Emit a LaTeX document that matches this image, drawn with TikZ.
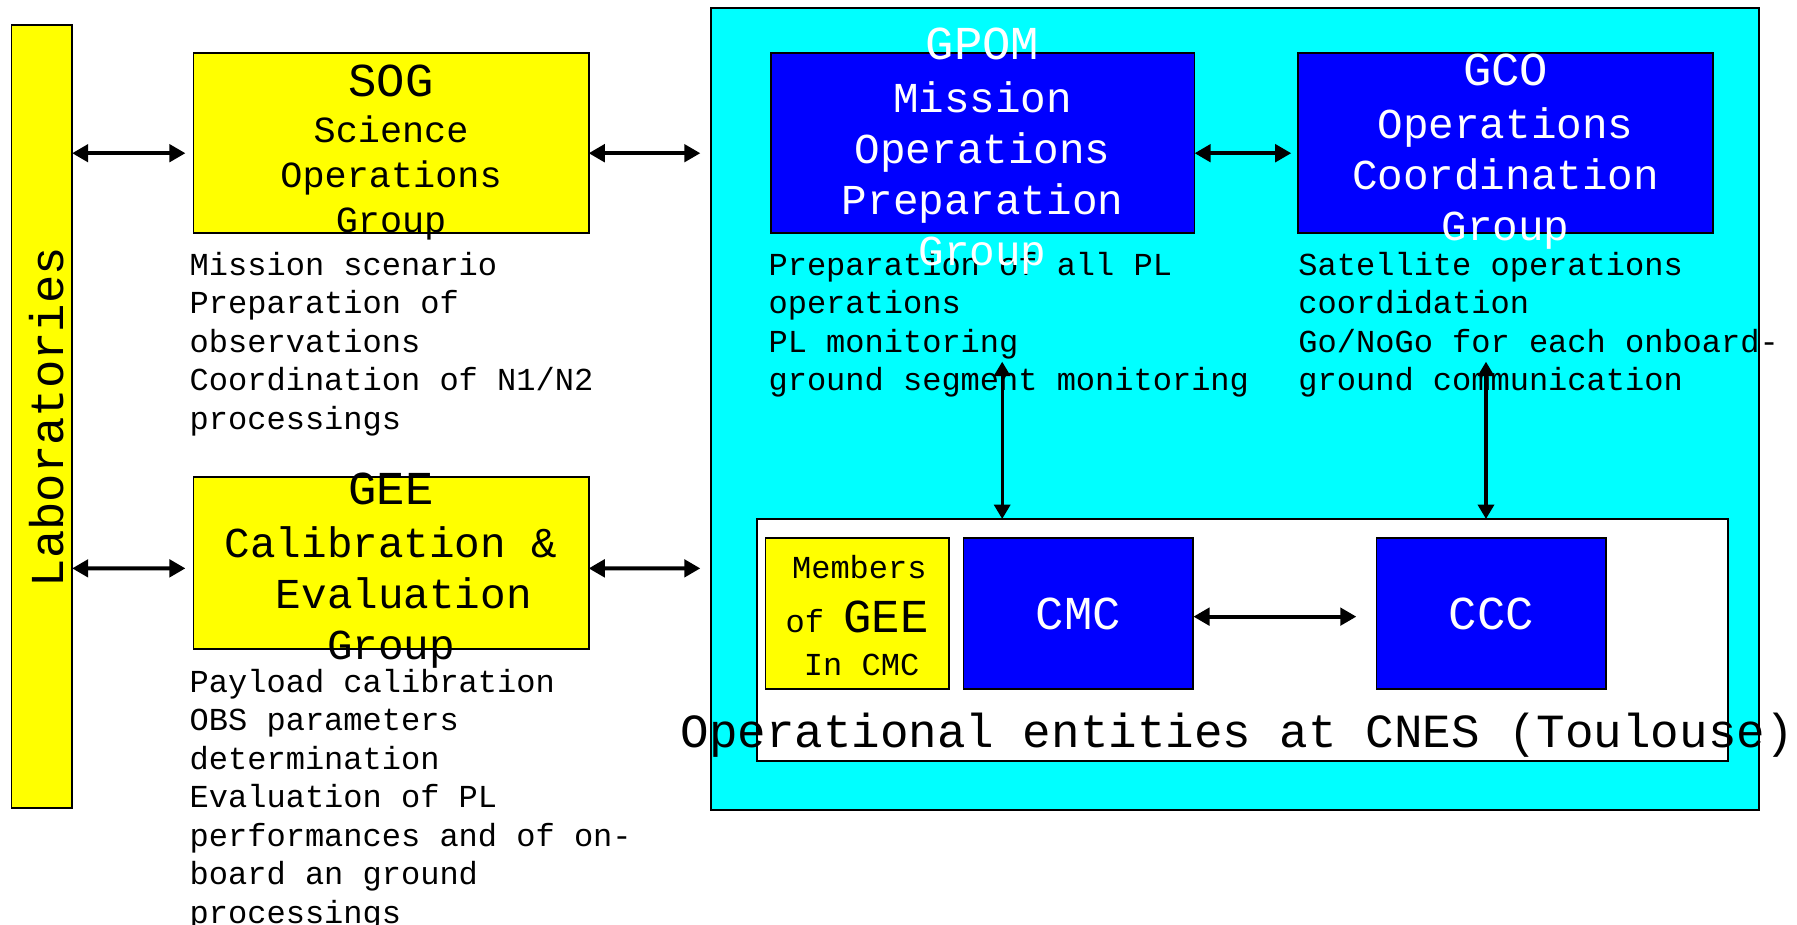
\documentclass[tikz,border=0pt]{standalone}
\usepackage{fontspec}
\newfontfamily\cour{Liberation Mono}
\usetikzlibrary{arrows.meta}
\definecolor{yel}{RGB}{255,255,0}
\definecolor{cyn}{RGB}{0,255,255}
\definecolor{blu}{RGB}{0,0,255}
\newcommand{\fsList}{\cour\fontsize{27.8}{33.4}\selectfont}
\newcommand{\fsBig}{\cour\fontsize{41}{49}\selectfont}
\newcommand{\fsSub}{\cour\fontsize{37}{44.3}\selectfont}
\newcommand{\fsSog}{\cour\fontsize{32}{39}\selectfont}
\begin{document}
\begin{tikzpicture}[x=1pt,y=-1pt,
  box/.style={draw=black,line width=1.6pt,inner sep=0pt,outer sep=0pt},
  ybox/.style={box,fill=yel},
  bbox/.style={box,fill=blu,text=white},
  lst/.style={anchor=base west,align=left,inner sep=0pt,font=\fsList},
  ttl/.style={anchor=base,align=center,inner sep=0pt},
  dbl/.style={{Triangle[length=14pt,width=15pt]}-{Triangle[length=14pt,width=15pt]},line width=3.6pt},
  vdbl/.style={{Triangle[length=12.5pt,width=14pt]}-{Triangle[length=12.5pt,width=14pt]},line width=2.8pt}
]
\useasboundingbox (0,0) rectangle (1560,803);
% containers
\node[box,fill=cyn,minimum width=910pt,minimum height=695.8pt] (cyan) at (1072,355.1) {};
\node[box,fill=white,minimum width=843pt,minimum height=210.1pt] (wbox) at (1078.5,555.55) {};
\node[ybox,minimum width=159.5pt,minimum height=131.7pt] (mem) at (744.25,532.55) {};
\node[bbox,minimum width=199.6pt,minimum height=131.7pt,font=\fsBig] (cmc) at (936.2,532.55) {CMC};
\node[bbox,minimum width=199pt,minimum height=131.7pt,font=\fsBig] (ccc) at (1294.5,532.55) {CCC};
% left column
\node[ybox,minimum width=52.6pt,minimum height=680pt] (lab) at (36.3,361.6) {};
\node[ybox,minimum width=343pt,minimum height=156.2pt] (sog) at (339.5,124.4) {};
\node[ybox,minimum width=343pt,minimum height=149.6pt] (gee) at (339.5,488.8) {};
\node[bbox,minimum width=368pt,minimum height=156.2pt] (gpom) at (853,124.4) {};
\node[bbox,minimum width=360pt,minimum height=156.2pt] (gco) at (1307,124.4) {};
% lists (anchor = baseline of last line)
\node[lst] (sogl) at (164.5,372.6) {Mission scenario\\Preparation of\\observations\\Coordination of N1/N2\\processings};
\node[lst] (gpoml) at (667,339.2) {Preparation of all PL\\operations\\PL monitoring\\ground segment monitoring};
\node[lst] (gcol) at (1127,339.2) {Satellite operations\\coordidation\\Go/NoGo for each onboard-\\ground communication};
\node[lst] (geel) at (164.5,801.4) {Payload calibration\\OBS parameters\\determination\\Evaluation of PL\\performances and of on-\\board an ground\\processings};
% titles
\node[ttl,rotate=90,font=\fsBig] (labt) at (55,362) {Laboratories};
\node[ttl,font=\fsBig] (sogt) at (339.5,84) {SOG};
\node[ttl,font=\fsSog] (sogs) at (339.5,202) {Science\\Operations\\Group};
\node[ttl,font=\fsBig,text=white] (gpomt) at (853,52) {GPOM};
\node[ttl,font=\fsSub,text=white] (gpoms) at (853,230.9) {Mission\\Operations\\Preparation\\Group};
\node[ttl,font=\fsBig,text=white] (gcot) at (1307,74) {GCO};
\node[ttl,font=\fsSub,text=white] (gcos) at (1307,208.6) {Operations\\Coordination\\Group};
\node[ttl,font=\fsBig] (geet) at (339.5,438) {GEE};
\node[ttl,font=\fsSub] (gees) at (339.5,572.6) {Calibration \&\\\phantom{x}Evaluation\\Group};
\node[ttl,font=\fsList] (mem1) at (746,502) {Members};
\node[ttl,font=\fsBig] (mem2) at (744,549) {{\fsList of }GEE};
\node[ttl,font=\fsList] (mem3) at (748,586) {In CMC};
\node[ttl,font=\cour\fontsize{41.3}{49}\selectfont] (opt) at (1074,649) {Operational entities at CNES (Toulouse)};
% connectors
\draw[dbl] (lab.east |- 0,133) -- ([xshift=-7pt,yshift=-8.6pt]sog.west);
\draw[dbl] ([yshift=-8.6pt]sog.east) -- ([xshift=-9pt]cyan.west |- 0,133);
\draw[dbl] ([yshift=-8.6pt]gpom.east) -- ([xshift=-6pt,yshift=-8.6pt]gco.west);
\draw[dbl] (lab.east |- 0,493.4) -- ([xshift=-7pt,yshift=-4.6pt]gee.west);
\draw[dbl] ([yshift=-4.6pt]gee.east) -- ([xshift=-9pt]cyan.west |- 0,493.4);
\draw[dbl] ([yshift=-2.75pt]cmc.east) -- ([xshift=-17.5pt,yshift=-2.75pt]ccc.west);
\coordinate (v1) at (870,314);
\coordinate (v2) at (1290,314);
\draw[vdbl] (v1) -- (v1 |- wbox.north);
\draw[vdbl] (v2) -- (v2 |- wbox.north);
\end{tikzpicture}
\end{document}
